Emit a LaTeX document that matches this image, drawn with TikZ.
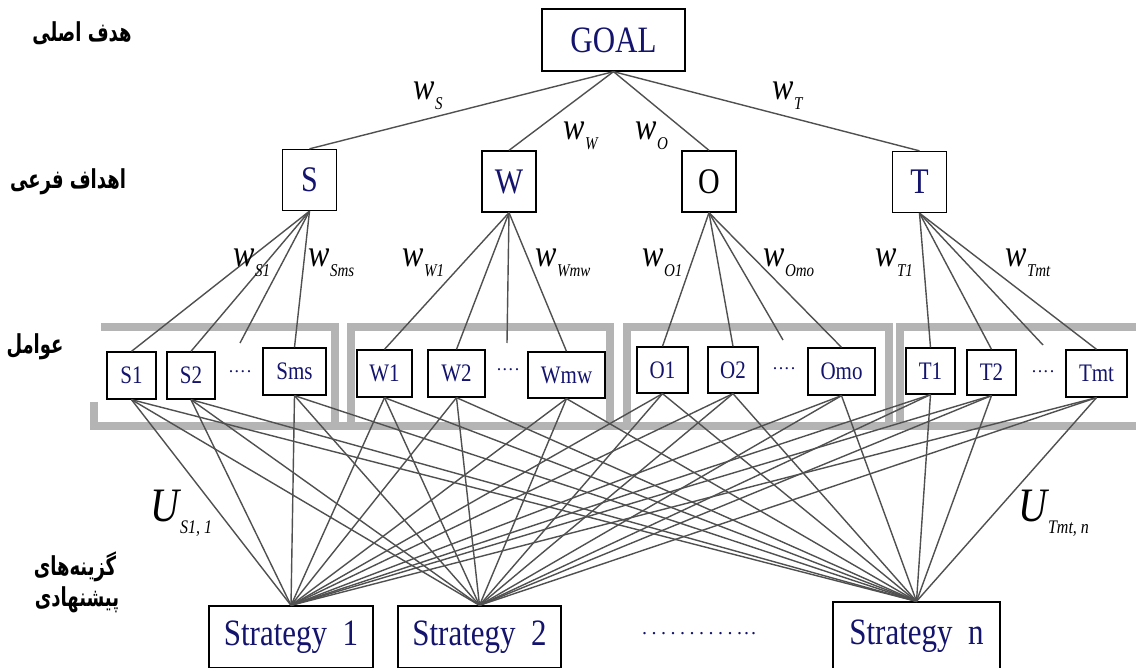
\documentclass[tikz,border=0pt]{standalone}
\usepackage{fontspec}
\usepackage{graphicx}
\setmainfont{Liberation Serif}
\newfontfamily\arabicfont[Script=Arabic]{DejaVu Sans}
\TeXXeTstate=1
\definecolor{txt}{RGB}{20,20,110}
\definecolor{ln}{RGB}{80,80,80}
\definecolor{frm}{RGB}{180,180,180}
\newcommand{\vs}[1]{\scalebox{1}[1.2]{#1}}
\newcommand{\ps}[1]{\scalebox{1}[1.45]{\arabicfont\bfseries\beginR #1\endR}}
\newcommand{\wlab}[1]{\vs{\fontsize{32}{32}\selectfont\itshape w\kern0.5pt\raisebox{-8pt}{\fontsize{15}{15}\selectfont #1}}}
\newcommand{\ulab}[1]{\vs{\fontsize{40}{40}\selectfont\itshape U\kern1pt\raisebox{-10pt}{\fontsize{16}{16}\selectfont #1}}}
\newcommand{\sdots}{.\kern1.5pt.\kern1.5pt.\kern1.5pt.}
\newcommand{\bdot}{.\kern4.5pt}
\tikzset{
  topbox/.style={draw=black, line width=1.3pt, fill=white, inner sep=0pt, text=txt,
    font=\fontsize{31}{31}\selectfont},
  midbox/.style={draw=black, line width=1.3pt, fill=white, inner sep=0pt, text=txt,
    font=\fontsize{30}{30}\selectfont, minimum width=54pt, minimum height=61pt},
  factorbox/.style={draw=black, line width=1.3pt, fill=white, inner sep=0pt, text=txt,
    font=\fontsize{21}{21}\selectfont},
  stratbox/.style={draw=black, line width=1.3pt, fill=white, inner sep=0pt, text=txt,
    font=\fontsize{31}{31}\selectfont},
  conn/.style={draw=ln, line width=1.4pt},
  grayframe/.style={draw=frm, line width=8pt, line join=miter},
  plabel/.style={font=\fontsize{18}{18}\selectfont, text=black, inner sep=0pt},
  wlabel/.style={anchor=base west, inner sep=0pt, text=black},
  dotlabel/.style={text=txt, inner sep=0pt, font=\fontsize{18}{18}\selectfont}
}
\begin{document}
\begin{tikzpicture}[x=1pt,y=-1pt]
\useasboundingbox[fill=white] (0,0) rectangle (1136,668);

% gray frames
\draw[grayframe] (101,327) -- (334.5,327) -- (334.5,426);
\draw[grayframe] (93.5,402) -- (93.5,426) -- (1136,426);
\draw[grayframe] (351,426) -- (351,327) -- (610,327) -- (610,426);
\draw[grayframe] (626.5,426) -- (626.5,327) -- (888.5,327) -- (888.5,426);
\draw[grayframe] (900,426) -- (900,327) -- (1136,327);

% level labels (Persian)
\node[plabel] (l1) at (82,33) {\ps{هدف اصلی}};
\node[plabel] (l2) at (68,182) {\ps{اهداف فرعی}};
\node[plabel] (l3) at (35,347) {\ps{عوامل}};
\node[plabel] (l4) at (75,567) {\ps{گزینه‌های}};
\node[plabel] (l5) at (77,600) {\ps{پیشنهادی}};

% goal
\node[topbox, minimum width=143pt, minimum height=62pt] (goal) at (613.5,40) {\vs{GOAL}};

% level 2
\node[midbox] (S) at (309.5,180) {\vs{S}};
\node[midbox] (W) at (509,181.5) {\vs{W}};
\node[midbox, text=black] (O) at (709,181.5) {\vs{O}};
\node[midbox] (T) at (919.5,182) {\vs{T}};

% factors
\node[factorbox, minimum width=49pt, minimum height=47pt] (s1) at (131.5,375.5) {\vs{S1}};
\node[factorbox, minimum width=48pt, minimum height=47pt] (s2) at (191,375.5) {\vs{S2}};
\node[factorbox, minimum width=63pt, minimum height=47pt] (sms) at (294.5,371.5) {\vs{Sms}};
\node[factorbox, minimum width=55pt, minimum height=47pt] (w1) at (384.5,373.5) {\vs{W1}};
\node[factorbox, minimum width=57pt, minimum height=47pt] (w2) at (456.5,373.5) {\vs{W2}};
\node[factorbox, minimum width=77pt, minimum height=46pt] (wmw) at (566.5,375) {\vs{Wmw}};
\node[factorbox, minimum width=51pt, minimum height=46pt] (o1) at (662.5,370) {\vs{O1}};
\node[factorbox, minimum width=50pt, minimum height=46pt] (o2) at (733,370) {\vs{O2}};
\node[factorbox, minimum width=67pt, minimum height=47pt] (omo) at (841.5,371.5) {\vs{Omo}};
\node[factorbox, minimum width=49pt, minimum height=46pt] (t1) at (930.5,371) {\vs{T1}};
\node[factorbox, minimum width=49pt, minimum height=45pt] (t2) at (991.5,372.5) {\vs{T2}};
\node[factorbox, minimum width=61pt, minimum height=47pt] (tmt) at (1096.5,373.5) {\vs{Tmt}};

\node[dotlabel] (sd) at (240,372) {\sdots};
\node[dotlabel] (wd) at (508,370) {\sdots};
\node[dotlabel] (od) at (784,369) {\sdots};
\node[dotlabel] (td) at (1043,372) {\sdots};

% strategies
\node[stratbox, minimum width=164pt, minimum height=62pt] (st1) at (291,637) {\vs{Strategy\ \ 1}};
\node[stratbox, minimum width=163pt, minimum height=62pt] (st2) at (479.5,637) {\vs{Strategy\ \ 2}};
\node[stratbox, minimum width=167pt, minimum height=68pt] (stn) at (916.5,636) {\vs{Strategy\ \ n}};
\node[dotlabel, font=\fontsize{20}{20}\selectfont] (bd) at (699,634) {\bdot\bdot\bdot\bdot\bdot\bdot\bdot\bdot\bdot\bdot.\kern2pt.\kern2pt.};

% phantom line ends
\coordinate (sp) at (240,343);
\coordinate (wp) at (507,343);
\coordinate (op) at (783,340);
\coordinate (tp) at (1043,345);

% connectors goal -> level 2
\foreach \n in {S,W,O,T} \draw[conn] (goal.south) -- (\n.north);

% level 2 -> factors
\foreach \p/\c in {S/s1,S/s2,S/sms,W/w1,W/w2,W/wmw,O/o1,O/o2,O/omo,T/t1,T/t2,T/tmt}
  \draw[conn] (\p.south) -- (\c.north);
\draw[conn] (S.south) -- (sp);
\draw[conn] (W.south) -- (wp);
\draw[conn] (O.south) -- (op);
\draw[conn] (T.south) -- (tp);

% factors -> strategies
\foreach \f in {s1,s2,sms,w1,w2,wmw,o1,o2,omo,t1,t2,tmt}
  \foreach \s in {st1,st2,stn}
    \draw[conn] (\f.south) -- (\s.north);

% weight labels
\node[wlabel] (ws) at (413,100) {\wlab{S}};
\node[wlabel] (ww) at (563,140) {\wlab{W}};
\node[wlabel] (wo) at (635,140) {\wlab{O}};
\node[wlabel] (wt) at (772,100) {\wlab{T}};
\node[wlabel] (ws1) at (233,267) {\wlab{S1}};
\node[wlabel] (wsms) at (308,267) {\wlab{Sms}};
\node[wlabel] (ww1) at (402,267) {\wlab{W1}};
\node[wlabel] (wwmw) at (535,267) {\wlab{Wmw}};
\node[wlabel] (wo1) at (642,267) {\wlab{O1}};
\node[wlabel] (womo) at (763,267) {\wlab{Omo}};
\node[wlabel] (wt1) at (875,267) {\wlab{T1}};
\node[wlabel] (wtmt) at (1005,267) {\wlab{Tmt}};

% utility labels
\node[wlabel] (u1) at (150,521) {\ulab{S1, 1}};
\node[wlabel] (un) at (1018,521) {\ulab{Tmt, n}};
\end{tikzpicture}
\end{document}
